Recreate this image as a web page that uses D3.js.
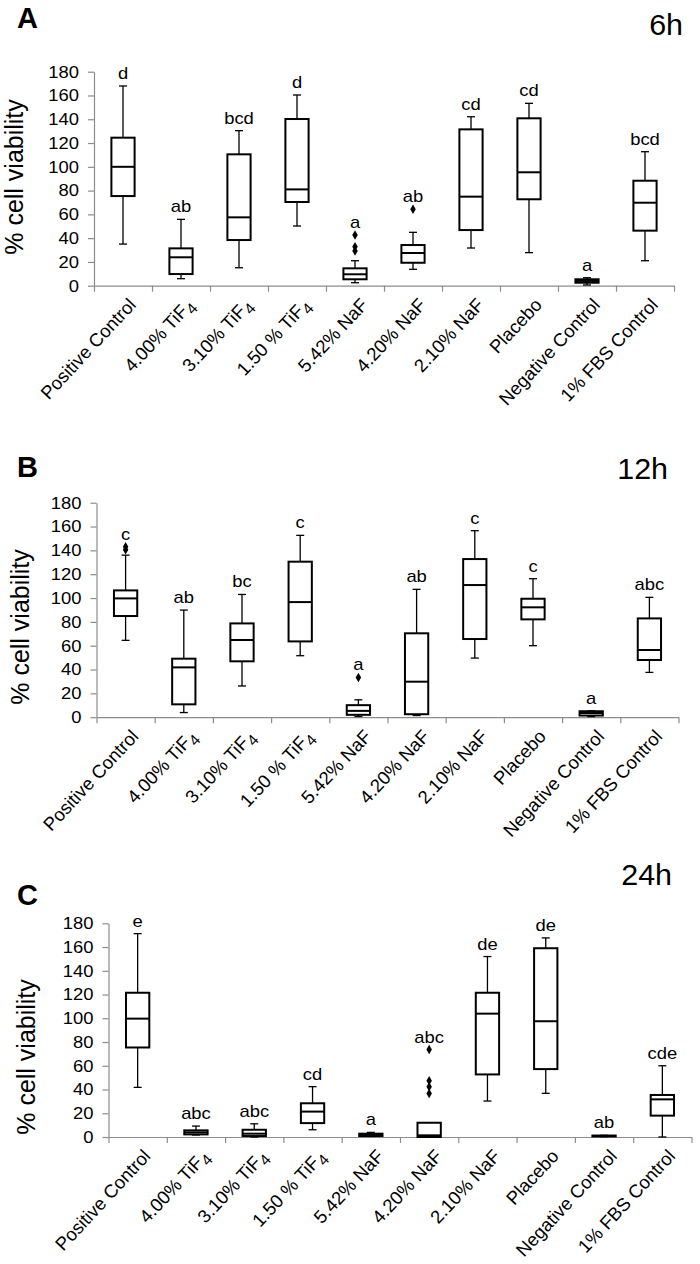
<!DOCTYPE html>
<html><head><meta charset="utf-8">
<script src="https://cdn.jsdelivr.net/npm/d3@7"></script>
<style>
body{margin:0;background:#fff}
svg{display:block}
text{font-family:"Liberation Sans",Arial,Helvetica,sans-serif;fill:#000}
</style></head>
<body>
<script>
// ---------- data ----------
const categories = ["Positive Control","4.00% TiF4","3.10% TiF4","1.50 % TiF4","5.42% NaF","4.20% NaF","2.10% NaF","Placebo","Negative Control","1% FBS Control"];
const yTicks = [0,20,40,60,80,100,120,140,160,180];

// 6h
const hi6  = [168, 55.8, 130.4, 160.4, 21, 44.9, 142.1, 153.4, 6.7, 112.7];
const q3_6 = [124.5, 31.4, 110.5, 140.2, 14.6, 34.2, 131.5, 140.8, 5.4, 88.3];
const med6 = [100, 23.9, 57.5, 81, 9.6, 27.5, 74.9, 95.4, 4, 69.8];
const q1_6 = [75.4, 9.8, 38.4, 70.4, 5.4, 19.3, 46.8, 72.7, 2.5, 46.3];
const lo6  = [35, 5.9, 15.1, 50.2, 2.5, 13.8, 31.7, 27.8, 0.6, 21];
const out6 = [[],[],[],[],[42.6,32.8,29.2],[64.3],[],[],[],[]];
const let6 = ["d","ab","bcd","d","a","ab","cd","cd","a","bcd"];

// 12h
const hi12  = [136, 89.9, 103, 152.6, 14.6, 107.3, 156.5, 116.2, 5.3, 100.6];
const q3_12 = [106.4, 49.1, 78.7, 130.5, 10.1, 70.4, 132.7, 99.4, 5, 82.9];
const med12 = [99.7, 41.8, 64.8, 96.6, 5.3, 29.8, 110.9, 92.2, 3.5, 56.4];
const q1_12 = [84.9, 10.8, 46.9, 63.6, 2, 2.5, 65.6, 82.1, 1.4, 48];
const lo12  = [64.5, 3.9, 26.2, 51.6, 0.6, 1.4, 49.6, 60, 0.5, 37.6];
const out12 = [[143,140.5],[],[],[],[33.4],[],[],[],[],[]];
const let12 = ["c","ab","bc","c","a","ab","c","c","a","abc"];

// 24h
const hi24  = [171.3, 9.2, 11.1, 42.4, 3.9, 12, 152, 167.7, 1.4, 60];
const q3_24 = [121.5, 5.6, 6.1, 28.4, 2.8, 12, 121.5, 159, 1.2, 35.4];
const med24 = [99.7, 3.9, 2.8, 21.4, 2, 1.4, 103.9, 97.5, 0.9, 31.7];
const q1_24 = [75.4, 2.2, 0.8, 11.7, 0.8, 0, 52.7, 57.2, 0.5, 18];
const lo24  = [41.8, 1.7, 0, 6.1, 0.5, 0, 30.3, 36.8, 0.3, 0];
const out24 = [[],[],[],[],[],[73.7,47.3,42.3,36.7],[],[],[],[]];
const let24 = ["e","abc","abc","cd","a","abc","de","de","ab","cde"];

// ---------- layout ----------
const SX = 1.15; // horizontal text stretch seen in the figure
const panels = [
  {tag:"A", time:"6h",  hi:hi6,  q3:q3_6,  med:med6,  q1:q1_6,  lo:lo6,  out:out6,  letters:let6,
   x0:94,  x1:674,  yTop:71.7,  yBot:285.7, tagY:28,  timeX:683, timeY:35,  titleX:15, titleY:177},
  {tag:"B", time:"12h", hi:hi12, q3:q3_12, med:med12, q1:q1_12, lo:lo12, out:out12, letters:let12,
   x0:96.5, x1:678.5, yTop:502.7, yBot:717.2, tagY:477, timeX:668, timeY:479, titleX:21, titleY:627},
  {tag:"C", time:"24h", hi:hi24, q3:q3_24, med:med24, q1:q1_24, lo:lo24, out:out24, letters:let24,
   x0:108.5, x1:691.5, yTop:923.3, yBot:1137, tagY:905, timeX:672, timeY:885, titleX:27, titleY:1057}
];

const svg = d3.select("body").append("svg").attr("width",700).attr("height",1264);

function txt(g, x, y, str, o) {
  const t = g.append("text")
    .attr("transform", `translate(${x},${y}) scale(${o.sx ?? SX},1) rotate(${o.rot||0})`)
    .attr("text-anchor", o.anchor || "start")
    .attr("font-size", o.size)
    .attr("font-weight", o.weight || "normal");
  const m = str.match(/^(.*TiF)4$/);
  if (m) {
    t.append("tspan").text(m[1]);
    t.append("tspan").attr("dy", 5).attr("font-size", o.size*0.85).text("4");
  } else t.text(str);
  return t;
}

panels.forEach(p => {
  const g = svg.append("g");
  const y = d3.scaleLinear().domain([0,180]).range([p.yBot, p.yTop]);
  const x = d3.scaleBand().domain(categories).range([p.x0, p.x1]).padding(0);
  const xb = d3.scaleLinear().domain([0, categories.length]).range([p.x0, p.x1]);

  // axes
  const ya = g.append("g").attr("transform",`translate(${p.x0},0)`)
    .call(d3.axisLeft(y).tickValues(yTicks).tickSize(6).tickSizeOuter(0).tickFormat(""));
  const xa = g.append("g").attr("transform",`translate(0,${p.yBot})`)
    .call(d3.axisBottom(xb).tickValues(d3.range(0, categories.length+1)).tickSize(6).tickSizeOuter(0).tickFormat(""));
  [ya, xa].forEach(a => { a.selectAll("path,line").attr("stroke","#8c8c8c").attr("stroke-width",1.2); });

  yTicks.forEach(v => txt(g, p.x0 - 15, y(v) + 5.8, String(v), {size:16, anchor:"end"}));

  // category labels
  categories.forEach(c => txt(g, x(c) + x.bandwidth()/2 + 14, p.yBot + 20, c, {size:18.5, anchor:"end", rot:-47, sx:1}));

  // y title
  txt(g, p.titleX + 8, p.titleY, "% cell viability", {size:25, anchor:"middle", rot:-90, sx:1.05});

  // tag and time
  txt(g, 17, p.tagY, p.tag, {size:29, weight:"bold", sx:1});
  txt(g, p.timeX, p.timeY, p.time, {size:29, anchor:"end", sx:1.05});

  // boxes
  const bw = x.bandwidth()*0.4, cap = 8;
  categories.forEach((c, i) => {
    const cx = x(c) + x.bandwidth()/2;
    const bg = g.append("g");
    bg.append("line").attr("x1",cx).attr("x2",cx).attr("y1",y(p.hi[i])).attr("y2",y(p.q3[i]))
      .attr("stroke","#000").attr("stroke-width",1.3);
    bg.append("line").attr("x1",cx).attr("x2",cx).attr("y1",y(p.q1[i])).attr("y2",y(p.lo[i]))
      .attr("stroke","#000").attr("stroke-width",1.3);
    [p.hi[i], p.lo[i]].forEach(v => bg.append("line").attr("x1",cx-cap/2).attr("x2",cx+cap/2)
      .attr("y1",y(v)).attr("y2",y(v)).attr("stroke","#000").attr("stroke-width",1.3));
    bg.append("rect").attr("x",cx-bw/2).attr("width",bw)
      .attr("y",y(p.q3[i])).attr("height",Math.max(0.5, y(p.q1[i])-y(p.q3[i])))
      .attr("fill","#fff").attr("stroke","#000").attr("stroke-width",2);
    bg.append("line").attr("x1",cx-bw/2).attr("x2",cx+bw/2).attr("y1",y(p.med[i])).attr("y2",y(p.med[i]))
      .attr("stroke","#000").attr("stroke-width",2);
    p.out[i].forEach(v => bg.append("path").attr("d", d3.symbol(d3.symbolDiamond, 26)())
      .attr("transform",`translate(${cx},${y(v)})`).attr("fill","#000"));
    const top = d3.max([p.hi[i], ...p.out[i]]);
    txt(g, cx, y(top) - 7, p.letters[i], {size:16, anchor:"middle"});
  });
});
</script>
</body></html>
